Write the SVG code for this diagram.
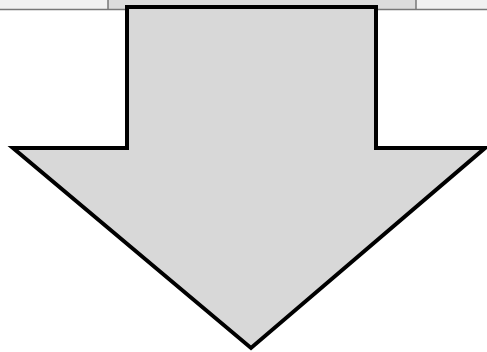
<svg xmlns="http://www.w3.org/2000/svg" width="487" height="352" viewBox="0 0 487 352">
<style>
.arrow{fill:#d8d8d8;stroke:#000;stroke-width:4;stroke-linejoin:miter}
</style>
<rect x="0" y="0" width="487" height="352" fill="#fff"/>
<g id="top-strip">
<rect x="0" y="0" width="487" height="9" fill="#f1f1f1"/>
<rect x="108" y="0" width="308" height="9" fill="#dcdcdc"/>
<line x1="0" y1="9.5" x2="487" y2="9.5" stroke="#777" stroke-width="1.5"/>
<line x1="108" y1="0" x2="108" y2="10" stroke="#777" stroke-width="1.5"/>
<line x1="416" y1="0" x2="416" y2="10" stroke="#777" stroke-width="1.5"/>
</g>
<g id="down-arrow">
<polygon class="arrow" points="127,7 376,7 376,148 485,148 251,348 13,148 127,148"/>
</g>
</svg>
